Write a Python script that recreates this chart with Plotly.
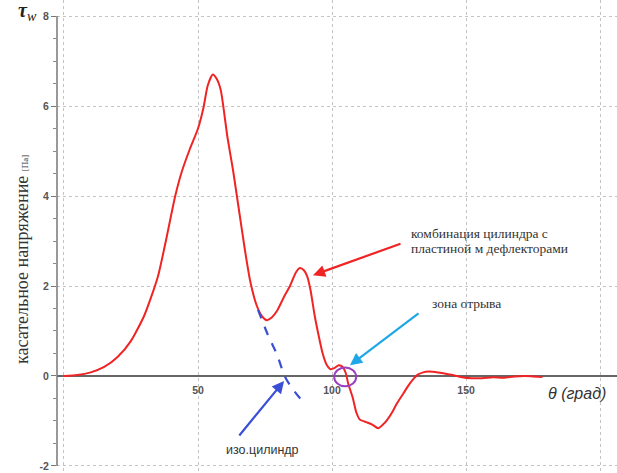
import plotly.graph_objects as go

# Wall shear stress, cylinder + plate with deflectors
theta_comb = [0, 5, 10, 15, 20, 25, 30, 35, 38, 41.5, 44, 47, 50, 52, 53.6, 55.5, 57, 58.5,
              61, 63, 65, 67.5, 69.5, 72, 74, 75.7, 77.5, 79.5, 82, 84.3, 86.5, 88, 89.5,
              90.7, 92, 93.5, 95, 96.5, 98, 99.5, 101, 102.5, 104, 105.2, 106, 107.8, 109,
              110.4, 113, 115, 117.2, 119, 120.5, 122.5, 124.3, 126.5, 128.4, 130, 132, 134,
              136, 138.5, 141.5, 145, 148, 152, 156, 160, 164, 168, 172, 175, 178.5]
tau_comb = [0, 0.02, 0.08, 0.2, 0.42, 0.78, 1.35, 2.2, 3.0, 4.0, 4.55, 5.05, 5.5, 5.95, 6.45,
            6.7, 6.6, 6.35, 5.3, 4.6, 3.8, 2.8, 2.1, 1.55, 1.32, 1.24, 1.3, 1.45, 1.75, 2.0,
            2.3, 2.4, 2.35, 2.22, 1.9, 1.35, 0.9, 0.5, 0.25, 0.15, 0.18, 0.24, 0.2, 0.05,
            -0.16, -0.5, -0.8, -0.97, -1.03, -1.08, -1.16, -1.08, -0.98, -0.8, -0.6, -0.4,
            -0.22, -0.09, 0.03, 0.08, 0.1, 0.09, 0.06, 0.02, -0.02, -0.05, -0.05, -0.03,
            -0.04, -0.01, 0.0, -0.01, -0.02]

# Isolated cylinder (dashed segment)
theta_iso = [72.4, 76.1, 79.5, 82.5, 86.2, 89.6]
tau_iso = [1.47, 0.91, 0.47, -0.02, -0.36, -0.6]

x_grid = [0, 50, 100, 150, 200]
x_labels = ["", "50", "100", "150", ""]
y_ticks = [-2, 0, 2, 4, 6, 8]
y_labels = ["-2", "0", "2", "4", "6", "8"]

X_RANGE = [-2.6, 206.3]
Y_RANGE = [-2.156, 8.356]
zero_pos = (0 - Y_RANGE[0]) / (Y_RANGE[1] - Y_RANGE[0])

RED = "#f02424"
BLUE = "#3a4fd6"
CYAN = "#1ea7e8"
PURPLE = "#9b3fc0"
GRID = "#c4c4c4"

fig = go.Figure()
fig.add_trace(go.Scatter(x=theta_comb, y=tau_comb, mode="lines",
                         line=dict(color=RED, width=2, shape="spline", smoothing=0.6),
                         showlegend=False, hoverinfo="skip"))
fig.add_trace(go.Scatter(x=theta_iso, y=tau_iso, mode="lines",
                         line=dict(color=BLUE, width=2.2, dash="dash", shape="spline"),
                         showlegend=False, hoverinfo="skip"))

tick_font = dict(family="Liberation Sans", size=10.5, color="#555", weight="bold")

fig.update_layout(
    width=617, height=473,
    margin=dict(l=57, r=0, t=0, b=0),
    paper_bgcolor="white", plot_bgcolor="white",
    xaxis=dict(range=X_RANGE, tickvals=x_grid, ticktext=x_labels,
               showgrid=True, gridcolor=GRID, griddash="dot", gridwidth=1,
               zeroline=False, showline=False,
               anchor="free", position=zero_pos,
               ticks="outside", ticklen=4, tickcolor="rgba(0,0,0,0)",
               tickfont=tick_font),
    yaxis=dict(range=Y_RANGE, tickvals=y_ticks, ticktext=y_labels,
               showgrid=True, gridcolor=GRID, griddash="dot", gridwidth=1,
               zeroline=True, zerolinecolor="#666", zerolinewidth=1.5,
               showline=False, ticks="outside", ticklen=5, tickcolor="#777",
               tickwidth=1.2, tickfont=tick_font,
               minor=dict(dtick=0.5, tick0=0, ticks="outside", ticklen=3,
                          tickcolor="#888", showgrid=False)),
)

# Y axis line between -2 and 8
fig.add_shape(type="line", xref="paper", yref="y", x0=0, x1=0, y0=-2, y1=8,
              line=dict(color="#777", width=1.5))

# Separation zone marker
fig.add_shape(type="circle", xref="x", yref="y", x0=100.8, x1=109.0, y0=-0.23, y1=0.19,
              line=dict(color=PURPLE, width=2))

serif = "Liberation Serif"
sans = "Liberation Sans"

# Arrows
fig.add_annotation(x=92.9, y=2.24, xref="x", yref="y", text="", showarrow=True,
                   ax=89, ay=-32, arrowhead=2, arrowsize=1.1, arrowwidth=2.2, arrowcolor=RED)
fig.add_annotation(x=106.7, y=0.24, xref="x", yref="y", text="", showarrow=True,
                   ax=70, ay=-53, arrowhead=2, arrowsize=1.1, arrowwidth=2.2, arrowcolor=CYAN)
fig.add_annotation(x=82.1, y=-0.11, xref="x", yref="y", text="", showarrow=True,
                   ax=-46, ay=56, arrowhead=2, arrowsize=1.1, arrowwidth=2.2, arrowcolor=BLUE)

# Labels
fig.add_annotation(x=128.7, y=(376 - 233) / 45, xref="x", yref="y", xanchor="left",
                   yanchor="middle", text="комбинация цилиндра с", showarrow=False,
                   font=dict(family=serif, size=13.5, color="#333"))
fig.add_annotation(x=128.7, y=(376 - 248) / 45, xref="x", yref="y", xanchor="left",
                   yanchor="middle", text="пластиной м дефлекторами", showarrow=False,
                   font=dict(family=serif, size=13.5, color="#333"))
fig.add_annotation(x=136.6, y=1.62, xref="x", yref="y", xanchor="left", yanchor="middle",
                   text="зона отрыва", showarrow=False,
                   font=dict(family=serif, size=13.5, color="#333"))
fig.add_annotation(x=73.9, y=-1.64, xref="x", yref="y", xanchor="center", yanchor="middle",
                   text="изо.цилиндр", showarrow=False,
                   font=dict(family=sans, size=12.5, color="#333"))

# Axis titles
fig.add_annotation(x=191.4, y=-0.38, xref="x", yref="y", xanchor="center", yanchor="middle",
                   text="<i>θ (град)</i>", showarrow=False,
                   font=dict(family=sans, size=16, color="#333"))
fig.add_annotation(x=(28 - 57) / 560, y=(473 - 12) / 473, xref="paper", yref="paper",
                   xanchor="center", yanchor="middle",
                   text="<b><i>τ</i></b><sub><i>w</i></sub>", showarrow=False,
                   font=dict(family=serif, size=20, color="#222"))
fig.add_annotation(x=(22 - 57) / 560, y=(473 - 260) / 473, xref="paper", yref="paper",
                   xanchor="center", yanchor="middle", textangle=-90,
                   text="касательное напряжение <span style='font-size:9px'>[Па]</span>",
                   showarrow=False, font=dict(family=serif, size=18, color="#333"))

fig.write_html("out.html")
